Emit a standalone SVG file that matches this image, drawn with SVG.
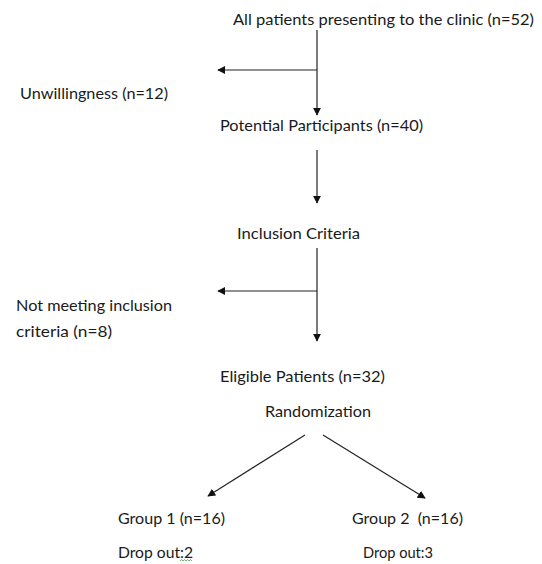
<svg xmlns="http://www.w3.org/2000/svg" width="542" height="564" viewBox="0 0 542 564">
<style>
text{font-family:Lato,"Open Sans","Liberation Sans",sans-serif;font-size:15px;fill:#1a1a1a}
.c line{stroke:#222;stroke-width:1.2;fill:none}
</style>
<defs>
<marker id="ah" viewBox="0 0 10 10" refX="9" refY="5" markerWidth="8" markerHeight="8" markerUnits="userSpaceOnUse" orient="auto">
<path d="M0,0 L10,5 L0,10 z" fill="#111"/>
</marker>
</defs>
<rect width="542" height="564" fill="#fff"/>
<g class="c" id="connectors">
<line x1="317" y1="30" x2="317" y2="115" marker-end="url(#ah)"/>
<line x1="317" y1="70" x2="218" y2="70" marker-end="url(#ah)"/>
<line x1="317" y1="150" x2="317" y2="203" marker-end="url(#ah)"/>
<line x1="317" y1="248" x2="317" y2="341" marker-end="url(#ah)"/>
<line x1="317" y1="291" x2="218" y2="291" marker-end="url(#ah)"/>
<line x1="305" y1="435" x2="208" y2="496" marker-end="url(#ah)"/>
<line x1="323" y1="435" x2="425" y2="498" marker-end="url(#ah)"/>
</g>
<g id="all"><text x="233" y="25" textLength="301" lengthAdjust="spacingAndGlyphs">All patients presenting to the clinic (n=52)</text></g>
<g id="unwilling"><text x="20" y="99" textLength="148" lengthAdjust="spacingAndGlyphs">Unwillingness (n=12)</text></g>
<g id="potential"><text x="220" y="131" textLength="203" lengthAdjust="spacingAndGlyphs">Potential Participants (n=40)</text></g>
<g id="inclusion"><text x="237" y="239" textLength="123" lengthAdjust="spacingAndGlyphs">Inclusion Criteria</text></g>
<g id="notmeeting">
<text x="16" y="311" textLength="156" lengthAdjust="spacingAndGlyphs">Not meeting inclusion</text>
<text x="16" y="337" textLength="96" lengthAdjust="spacingAndGlyphs">criteria (n=8)</text>
</g>
<g id="eligible"><text x="220" y="382" textLength="165" lengthAdjust="spacingAndGlyphs">Eligible Patients (n=32)</text></g>
<g id="random"><text x="265" y="417" textLength="106" lengthAdjust="spacingAndGlyphs">Randomization</text></g>
<g id="group1">
<text x="118" y="524" textLength="107" lengthAdjust="spacingAndGlyphs">Group 1 (n=16)</text>
<text x="118" y="558" textLength="75" lengthAdjust="spacingAndGlyphs">Drop out:2</text>
<path d="M180,561 l1.5,-1.5 l1.5,1.5 l1.5,-1.5 l1.5,1.5 l1.5,-1.5 l1.5,1.5 l1.5,-1.5 l1.5,1.5" stroke="#4a9a4a" stroke-width="0.8" fill="none"/>
</g>
<g id="group2">
<text x="352" y="524" textLength="111" lengthAdjust="spacingAndGlyphs" xml:space="preserve">Group 2  (n=16)</text>
<text x="363" y="558" textLength="70" lengthAdjust="spacingAndGlyphs">Drop out:3</text>
</g>
</svg>
